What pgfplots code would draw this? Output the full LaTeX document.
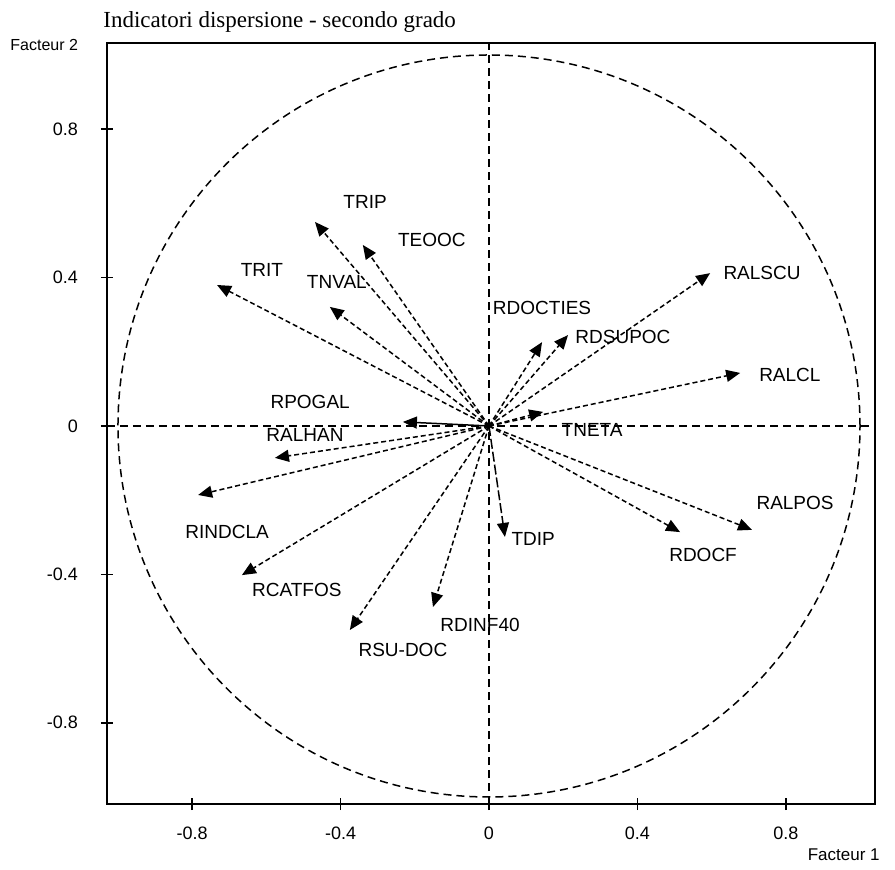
\documentclass[border=0pt]{standalone}
\usepackage{fontspec}
\setmainfont{Liberation Sans}
\newfontfamily\titlefont{Liberation Serif}
\usepackage{pgfplots}
\pgfplotsset{compat=1.18}
\usetikzlibrary{arrows.meta}
\tikzset{
  arr/.style={black, line width=0.75pt, dash pattern=on 2.5pt off 1.5pt, -{Triangle[length=7pt,width=6pt]}},
  lab/.style={font=\fontsize{9.5}{11}\selectfont},
}

\begin{document}
\begin{tikzpicture}[x=1pt,y=1pt]
\useasboundingbox (-53.5,-32.5) rectangle (394,402);
\begin{axis}[
  at={(0,0)}, anchor=south west,
  scale only axis, width=384pt, height=380.5pt,
  xmin=-1.0296, xmax=1.0404, ymin=-1.0189, ymax=1.0323,
  axis line style={line width=1pt},
  xtick={-0.8,-0.4,0,0.4,0.8}, xticklabels={-0.8,-0.4,0,0.4,0.8},
  ytick={-0.8,-0.4,0,0.4,0.8}, yticklabels={-0.8,-0.4,0,0.4,0.8},
  tick align=center, xtick pos=bottom, ytick pos=left,
  major tick length=6pt, tick style={line width=0.8pt, black},
  ticklabel style={font=\fontsize{9}{10}\selectfont},
  xticklabel style={yshift=-5pt},
  yticklabel style={xshift=-8pt},
  clip=false,
]
% reference circle and axes
\draw[dash pattern=on 4pt off 2.5pt, line width=0.75pt] (axis cs:0,0) circle [radius=1];
\draw[dash pattern=on 4pt off 2.5pt, line width=0.75pt] (axis cs:-1.0296,0) -- (axis cs:1.0404,0);
\draw[dash pattern=on 4pt off 2.5pt, line width=0.75pt] (axis cs:0,-1.0189) -- (axis cs:0,1.0323);

% variable vectors
\addplot[arr] coordinates {(0,0) (-0.469,0.550)};
\addplot[arr] coordinates {(0,0) (-0.340,0.488)};
\addplot[arr] coordinates {(0,0) (-0.429,0.321)};
\addplot[arr] coordinates {(0,0) (-0.733,0.380)};
\addplot[arr] coordinates {(0,0) (0.143,0.226)};
\addplot[arr] coordinates {(0,0) (0.213,0.245)};
\addplot[arr] coordinates {(0,0) (0.596,0.412)};
\addplot[arr] coordinates {(0,0) (0.677,0.143)};
\addplot[arr] coordinates {(0,0) (0.146,0.038)};
\addplot[arr, solid] coordinates {(0,0) (-0.232,0.011)};
\addplot[arr] coordinates {(0,0) (-0.577,-0.086)};
\addplot[arr] coordinates {(0,0) (-0.784,-0.186)};
\addplot[arr] coordinates {(0,0) (-0.666,-0.402)};
\addplot[arr] coordinates {(0,0) (-0.375,-0.550)};
\addplot[arr] coordinates {(0,0) (-0.151,-0.488)};
\addplot[arr, dash pattern=on 5pt off 1.5pt] coordinates {(0,0) (0.043,-0.299)};
\addplot[arr] coordinates {(0,0) (0.515,-0.286)};
\addplot[arr] coordinates {(0,0) (0.709,-0.280)};

% labels
\node[lab] at (axis cs:-0.334,0.604) {TRIP};
\node[lab] at (axis cs:-0.154,0.501) {TEOOC};
\node[lab] at (axis cs:-0.410,0.388) {TNVAL};
\node[lab] at (axis cs:-0.612,0.420) {TRIT};
\node[lab] at (axis cs:0.143,0.318) {RDOCTIES};
\node[lab] at (axis cs:0.361,0.240) {RDSUPOC};
\node[lab] at (axis cs:0.736,0.412) {RALSCU};
\node[lab] at (axis cs:0.811,0.137) {RALCL};
\node[lab] at (axis cs:0.278,-0.011) {TNETA};
\node[lab] at (axis cs:-0.482,0.065) {RPOGAL};
\node[lab] at (axis cs:-0.496,-0.024) {RALHAN};
\node[lab] at (axis cs:-0.706,-0.286) {RINDCLA};
\node[lab] at (axis cs:-0.518,-0.442) {RCATFOS};
\node[lab] at (axis cs:-0.232,-0.604) {RSU-DOC};
\node[lab] at (axis cs:-0.024,-0.536) {RDINF40};
\node[lab] at (axis cs:0.119,-0.305) {TDIP};
\node[lab] at (axis cs:0.577,-0.348) {RDOCF};
\node[lab] at (axis cs:0.825,-0.208) {RALPOS};
\end{axis}
\node[anchor=west, inner sep=0pt, font=\titlefont\fontsize{11.5}{13}\selectfont] at (-2,391) {Indicatori dispersione - secondo grado};
\node[anchor=west, inner sep=0pt, font=\fontsize{8}{10}\selectfont] at (-48.5,379.5) {Facteur 2};
\node[anchor=east, inner sep=0pt, font=\fontsize{8.5}{10}\selectfont] at (386.5,-25.5) {Facteur 1};
\end{tikzpicture}
\end{document}
